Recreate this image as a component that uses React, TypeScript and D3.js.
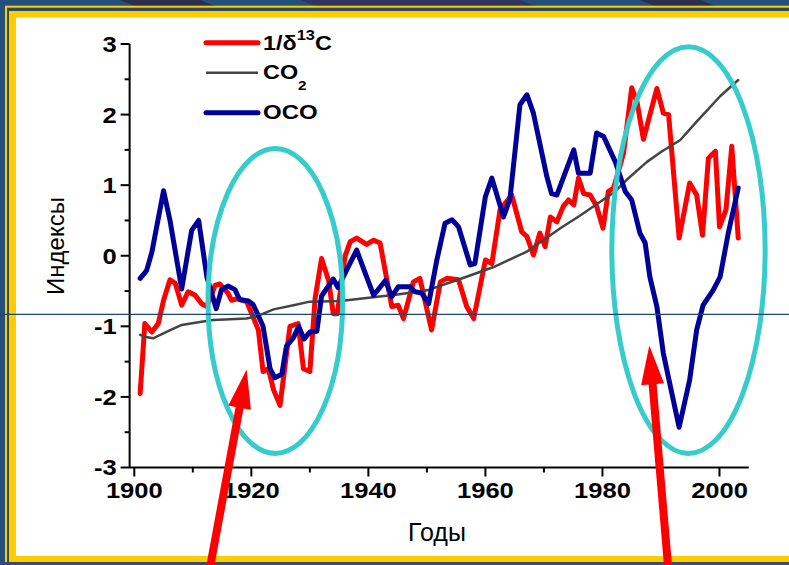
import React from "react";
import * as d3 from "d3";

// ---- data ----
const redYears = [1901, 1901.8, 1903, 1904.1, 1905, 1906.1, 1907, 1908.1, 1909.2, 1910.4, 1911.5, 1912.4, 1913.8, 1914.6, 1916, 1916.6, 1917.5, 1919.2, 1920.3, 1921.2, 1922, 1922.9, 1923.8, 1924.9, 1926.6, 1928, 1928.9, 1930, 1930.9, 1932, 1933.2, 1934, 1934.7, 1936, 1936.9, 1938, 1939.7, 1940.9, 1942, 1944, 1945.1, 1946, 1947.7, 1948.8, 1950.8, 1952.3, 1953.4, 1955.4, 1956.8, 1958, 1960, 1961.1, 1962.5, 1964.5, 1966.2, 1967.1, 1968.2, 1969.3, 1970.2, 1971.1, 1972.2, 1973.3, 1974.2, 1975.1, 1975.9, 1976.8, 1977.9, 1979, 1980.1, 1981, 1981.9, 1983.6, 1985, 1985.9, 1987, 1989.3, 1990.4, 1991.3, 1993.1, 1994.9, 1996.1, 1997.1, 1998.1, 1999.3, 2000, 2001.1, 2002.1, 2003.2];
const redValues = [-1.95, -0.96, -1.08, -0.96, -0.63, -0.34, -0.39, -0.7, -0.51, -0.56, -0.68, -0.72, -0.42, -0.4, -0.53, -0.63, -0.61, -0.65, -0.87, -1.05, -1.64, -1.6, -1.9, -2.12, -1.0, -0.96, -1.6, -1.64, -0.6, -0.04, -0.35, -0.82, -0.82, -0.01, 0.2, 0.25, 0.16, 0.22, 0.18, -0.72, -0.7, -0.89, -0.37, -0.32, -1.05, -0.37, -0.32, -0.34, -0.72, -0.89, -0.06, -0.11, 0.65, 0.86, 0.34, 0.27, 0.01, 0.32, 0.13, 0.55, 0.48, 0.7, 0.79, 0.72, 1.1, 0.88, 0.86, 0.7, 0.39, 0.91, 0.96, 1.45, 2.38, 2.18, 1.65, 2.37, 2.02, 2.0, 0.25, 1.03, 0.86, 0.29, 1.38, 1.48, 0.41, 0.65, 1.55, 0.25];

const co2Years = [1901, 1902, 1903.2, 1905.5, 1908.1, 1911.2, 1913.5, 1919.2, 1920.9, 1923.8, 1927.2, 1930, 1935.2, 1939.7, 1945, 1950, 1955.7, 1961.4, 1967.1, 1972.8, 1976.2, 1979, 1982, 1984.2, 1987.6, 1990, 1993.3, 1996.1, 2000.1, 2003.2];
const co2Values = [-1.12, -1.15, -1.17, -1.08, -0.98, -0.94, -0.91, -0.89, -0.86, -0.76, -0.7, -0.65, -0.64, -0.6, -0.55, -0.49, -0.33, -0.16, 0.06, 0.39, 0.57, 0.73, 0.9, 1.08, 1.33, 1.47, 1.64, 1.9, 2.26, 2.49];

const ocoYears = [1901, 1902.1, 1903, 1905, 1906.1, 1908.1, 1909.8, 1911, 1912.4, 1914, 1914.9, 1916, 1917.2, 1918, 1919.5, 1920.3, 1921.2, 1922, 1922.6, 1923.2, 1924, 1925.2, 1926, 1927.2, 1928.1, 1929, 1930, 1931.2, 1932, 1934, 1934.8, 1936.3, 1938, 1939.7, 1940.9, 1942.9, 1944, 1945.1, 1947.1, 1948, 1949.1, 1950.3, 1951.7, 1953.1, 1954.3, 1955.4, 1957.4, 1958.2, 1960, 1961.1, 1963.1, 1964.2, 1965.9, 1967.1, 1968.2, 1970.5, 1971.3, 1972.2, 1975.1, 1975.9, 1977.9, 1979, 1980.2, 1982.2, 1983.9, 1985, 1986.4, 1987.3, 1988.1, 1989.3, 1990.4, 1991.5, 1993.1, 1994.9, 1996.1, 1997.2, 1998.9, 2000.1, 2001.5, 2003.2];
const ocoValues = [-0.32, -0.21, 0.05, 0.92, 0.5, -0.47, 0.36, 0.5, -0.3, -0.75, -0.48, -0.43, -0.48, -0.62, -0.64, -0.69, -0.85, -1.0, -1.3, -1.6, -1.73, -1.68, -1.28, -1.16, -1.0, -1.18, -1.08, -1.07, -0.57, -0.33, -0.45, -0.2, 0.08, -0.3, -0.56, -0.35, -0.58, -0.44, -0.44, -0.51, -0.53, -0.68, -0.06, 0.46, 0.51, 0.41, -0.13, -0.11, 0.84, 1.1, 0.55, 0.81, 2.14, 2.28, 2.02, 1.12, 0.88, 0.86, 1.5, 1.17, 1.17, 1.74, 1.69, 1.33, 0.91, 0.79, 0.32, 0.18, -0.3, -0.72, -1.38, -1.81, -2.43, -1.76, -1.05, -0.7, -0.49, -0.3, 0.32, 0.96];

const xMajorTicks = [1900, 1920, 1940, 1960, 1980, 2000];
const xMinorTicks = [1910, 1930, 1950, 1970, 1990];
const yMajorTicks = [-3, -2, -1, 0, 1, 2, 3];
const yMinorTicks = [-2.5, -1.5, -0.5, 0.5, 1.5, 2.5];

const xTitle = "Годы";
const yTitle = "Индексы";

// annotations in data coordinates: [centerYear, centerValue, radiusYears, radiusValue]
const ellipses = [
  [1924.1, -0.64, 11.5, 2.16],
  [1994.7, 0.08, 13.1, 2.88],
];
// arrows: [tailYear, tailValue, tipYear, tipValue]
const arrows = [
  [1913.0, -4.39, 1919.2, -1.61],
  [1991.2, -4.39, 1988.0, -1.27],
];
const refLineValue = -0.83;

const W = 789;
const H = 565;
const FONT = "'Liberation Sans', Arial, sans-serif";
const SX = 1.16; // horizontal stretch of the bold labels in the reference

export default function App() {
  const x = d3.scaleLinear().domain([1900, 2000]).range([134.3, 719.5]);
  const y = d3.scaleLinear().domain([-3, 3]).range([467.5, 44]);
  const xAxisStart = x(1899.2);
  const xAxisEnd = x(2005);

  const mk = (ys: number[], vs: number[]) =>
    d3
      .line<number>()
      .x((_, i) => x(ys[i]))
      .y((v) => y(v))(vs) as string;

  const red = "#ff0000";
  const blue = "#000099";
  const gray = "#444444";
  const cyan = "#36cccc";
  const yellow = "#ffcc00";

  const arrowPaths = arrows.map(([ty, tv, hy, hv]) => {
    const x0 = x(ty), y0 = y(tv), x1 = x(hy), y1 = y(hv);
    const dx = x1 - x0, dy = y1 - y0;
    const len = Math.hypot(dx, dy);
    const ux = dx / len, uy = dy / len;
    const px = -uy, py = ux;
    const headLen = 39, headW = 11.5, shaftW = 4;
    const bx = x1 - ux * headLen, by = y1 - uy * headLen;
    const pts = [
      [x0 + px * shaftW, y0 + py * shaftW],
      [bx + px * shaftW, by + py * shaftW],
      [bx + px * headW, by + py * headW],
      [x1, y1],
      [bx - px * headW, by - py * headW],
      [bx - px * shaftW, by - py * shaftW],
      [x0 - px * shaftW, y0 - py * shaftW],
    ];
    return "M" + pts.map((p) => p[0].toFixed(1) + "," + p[1].toFixed(1)).join("L") + "Z";
  });

  return (
    <svg
      width={W}
      height={H}
      style={{ position: "fixed", left: 0, top: 0, display: "block" }}
      fontFamily={FONT}
    >
      {/* slide background and frame */}
      <rect x={0} y={0} width={W} height={H} fill="#22507a" />
      <path d="M120,0 L200,0 L215,6 L135,6 Z" fill="#2a2f52" />
      <path d="M300,0 L520,0 L535,6 L315,6 Z" fill="#2e3560" />
      <path d="M640,0 L700,0 L715,6 L655,6 Z" fill="#2a2f52" />
      <rect x={5} y={5.7} width={W - 5} height={556.3} fill={yellow} />
      <rect x={7} y={7.7} width={W - 7} height={554.3} fill="#2b4a66" />
      <rect x={9} y={11} width={W - 9} height={551} fill={yellow} />
      <rect x={16} y={17.5} width={W - 16} height={538.5} fill="#ffffff" />
      <rect x={0} y={562} width={W} height={3} fill="#3a4a7c" />

      {/* axes */}
      <line x1={xAxisStart} x2={xAxisStart} y1={y(3)} y2={y(-3)} stroke="#000" strokeWidth={2} />
      <line x1={xAxisStart} x2={xAxisEnd} y1={y(-3)} y2={y(-3)} stroke="#000" strokeWidth={2} />
      {yMajorTicks.map((t) => (
        <g key={"ym" + t}>
          <line x1={xAxisStart - 9} x2={xAxisStart} y1={y(t)} y2={y(t)} stroke="#000" strokeWidth={2} />
          <text
            transform={`translate(${xAxisStart - 13},${y(t)}) scale(${SX},1)`}
            dy="0.36em"
            textAnchor="end"
            fontSize={22}
            fontWeight="bold"
          >
            {t}
          </text>
        </g>
      ))}
      {yMinorTicks.map((t) => (
        <line key={"yn" + t} x1={xAxisStart - 5} x2={xAxisStart} y1={y(t)} y2={y(t)} stroke="#000" strokeWidth={2} />
      ))}
      {xMajorTicks.map((t) => (
        <g key={"xm" + t}>
          <line x1={x(t)} x2={x(t)} y1={y(-3)} y2={y(-3) + 9} stroke="#000" strokeWidth={2} />
          <text
            transform={`translate(${x(t)},498) scale(${SX},1)`}
            textAnchor="middle"
            fontSize={22}
            fontWeight="bold"
          >
            {t}
          </text>
        </g>
      ))}
      {xMinorTicks.map((t) => (
        <line key={"xn" + t} x1={x(t)} x2={x(t)} y1={y(-3)} y2={y(-3) + 5} stroke="#000" strokeWidth={2} />
      ))}
      <text x={437} y={541} textAnchor="middle" fontSize={25}>
        {xTitle}
      </text>
      <text transform="translate(64,246) rotate(-90)" textAnchor="middle" fontSize={24}>
        {yTitle}
      </text>

      {/* series */}
      <path d={mk(redYears, redValues)} fill="none" stroke={red} strokeWidth={5} strokeLinejoin="round" strokeLinecap="round" />
      <path d={mk(co2Years, co2Values)} fill="none" stroke={gray} strokeWidth={2.5} strokeLinejoin="round" strokeLinecap="round" />
      <path d={mk(ocoYears, ocoValues)} fill="none" stroke={blue} strokeWidth={5} strokeLinejoin="round" strokeLinecap="round" />

      {/* legend */}
      <line x1={206} x2={258} y1={42.7} y2={42.7} stroke={red} strokeWidth={5} strokeLinecap="round" />
      <text transform={`translate(263,50) scale(1.17,1)`} fontSize={20} fontWeight="bold">
        1/δ
        <tspan fontSize={14} dy={-10}>13</tspan>
        <tspan dy={10}>C</tspan>
      </text>
      <line x1={206} x2={258} y1={72.7} y2={72.7} stroke={gray} strokeWidth={2.5} />
      <text transform={`translate(263,79) scale(1.17,1)`} fontSize={20} fontWeight="bold">
        CO
        <tspan fontSize={13} dy={11}>2</tspan>
      </text>
      <line x1={206} x2={258} y1={112.7} y2={112.7} stroke={blue} strokeWidth={5} strokeLinecap="round" />
      <text transform={`translate(263,119) scale(1.2,1)`} fontSize={20} fontWeight="bold">
        OCO
      </text>

      {/* annotations */}
      {ellipses.map(([cx, cy, rx, ry], i) => (
        <ellipse
          key={"e" + i}
          cx={x(cx)}
          cy={y(cy)}
          rx={x(cx + rx) - x(cx)}
          ry={y(cy - ry) - y(cy)}
          fill="none"
          stroke={cyan}
          strokeWidth={5}
        />
      ))}
      <line x1={0} x2={W} y1={y(refLineValue)} y2={y(refLineValue)} stroke="#1e4670" strokeWidth={1.2} />
      {arrowPaths.map((d, i) => (
        <path key={"a" + i} d={d} fill={red} />
      ))}
    </svg>
  );
}
